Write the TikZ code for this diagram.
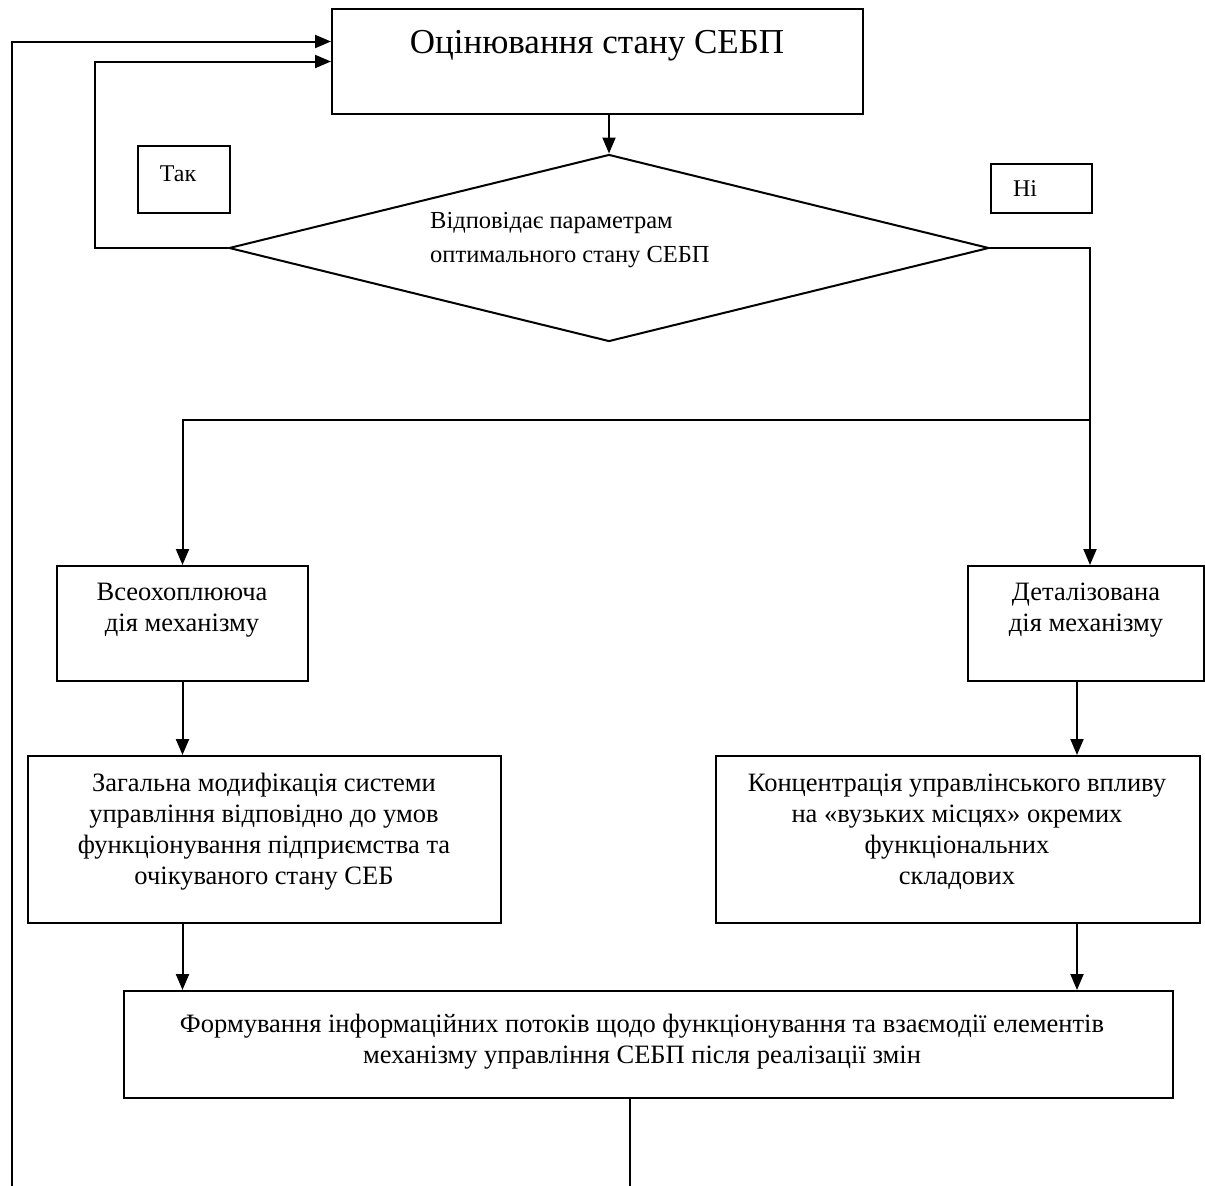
\documentclass[tikz,border=0pt]{standalone}
\usepackage{fontspec}
\setmainfont{Liberation Serif}
\usetikzlibrary{shapes.geometric,arrows.meta}

\begin{document}
\begin{tikzpicture}[
  x=1pt, y=-1pt,
  every node/.style={inner sep=0pt},
  box/.style={draw, line width=2pt, anchor=north west},
  txt/.style={align=center, font=\fontsize{26.5}{31}\selectfont},
  conn/.style={line width=2pt},
  arr/.style={conn, -{Triangle[length=16pt,width=13pt]}}
]
\useasboundingbox (0,0) rectangle (1205,1186);

% evaluation and decision
\node[box, minimum width=531pt, minimum height=105pt] (eval) at (331,8) {};
\node[font=\fontsize{35}{40}\selectfont] (evaltxt) at (597,46) {Оцінювання стану СЕБП};
\node[draw, line width=2pt, diamond, minimum width=760pt, minimum height=187pt] (cond) at (609,248) {};
\node[align=left, anchor=west, font=\fontsize{24.5}{34}\selectfont] (condtxt) at (430,240)
  {Відповідає параметрам\\оптимального стану СЕБП};
\node[box, minimum width=92pt, minimum height=67pt] (yesbox) at (137,145) {};
\node[font=\fontsize{24}{28}\selectfont] (yes) at (178,174) {Так};
\node[box, minimum width=101pt, minimum height=49pt] (nobox) at (990,163) {};
\node[font=\fontsize{24}{28}\selectfont] (no) at (1025,189) {Ні};

% two kinds of action
\node[box, minimum width=251pt, minimum height=115pt] (all) at (56,565) {};
\node[txt] (alltxt) at (182,610) {Всеохоплююча\\дія механізму};
\node[box, minimum width=236pt, minimum height=115pt] (det) at (967,565) {};
\node[txt] (dettxt) at (1086,610) {Деталізована\\дія механізму};

\node[box, minimum width=473pt, minimum height=167pt] (gen) at (27,755) {};
\node[txt] (gentxt) at (264,832) {Загальна модифікація системи\\управління відповідно до умов\\функціонування підприємства та\\очікуваного стану СЕБ};
\node[box, minimum width=484pt, minimum height=167pt] (conc) at (715,755) {};
\node[txt] (conctxt) at (957,832) {Концентрація управлінського впливу\\на «вузьких місцях» окремих\\функціональних\\складових};

\node[box, minimum width=1049pt, minimum height=107pt] (info) at (123,990) {};
\node[txt] (infotxt) at (642,1042) {Формування інформаційних потоків щодо функціонування та взаємодії елементів\\механізму управління СЕБП після реалізації змін};

% connectors
\coordinate (rbranch) at (1090,0);
\coordinate (split) at (1090,420);
\coordinate (rcol) at (1077,0);
\coordinate (loopend) at (630,1186);
\coordinate (loopstart) at (12,1186);

\draw[arr] (eval.south -| cond.north) -- (cond.north);
\draw[arr] (cond.west) -- ++(-133,0) |- (eval.west);
\draw[arr] (cond.east) -| (rbranch |- det.north);
\draw[arr] (split) -| (all.north);
\draw[arr] (all.south) -- (all.south |- gen.north);
\draw[arr] (rcol |- det.south) -- (rcol |- conc.north);
\draw[arr] (all.south |- gen.south) -- (all.south |- info.north);
\draw[arr] (rcol |- conc.south) -- (rcol |- info.north);
\draw[conn] (loopend |- info.south) -- (loopend);
\draw[arr] (loopstart) |- ([yshift=20pt]eval.west);
\end{tikzpicture}
\end{document}
